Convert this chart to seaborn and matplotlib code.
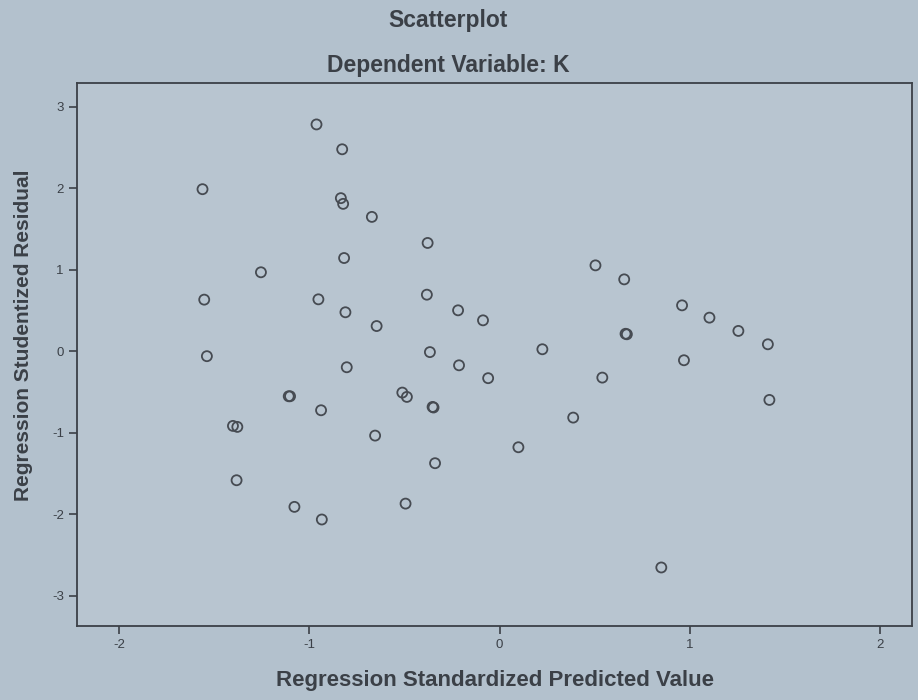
import matplotlib
matplotlib.use("Agg")
import matplotlib.pyplot as plt
import seaborn as sns
import pandas as pd

# standardized predicted values (x) and studentized residuals (y)
predicted = [
    -0.962, -0.827, -1.561, -0.834, -0.822, -0.671, -0.378, -0.817, -1.254, -1.552,
    -0.952, -0.382, -0.810, -0.218, -0.087, -0.646, -1.538, -0.366, -0.213, -0.060,
    -0.803, -1.108, -1.101, -0.511, -0.487, -0.352, -0.347, -0.938, -1.401, -1.378,
    -0.654, -0.339, -1.382, -1.078, -0.934, -0.494, 0.504, 0.655, 0.959, 1.103,
    1.255, 1.410, 0.669, 0.662, 0.225, 0.540, 0.969, 1.418, 0.387, 0.099, 0.850,
]
residual = [
    2.785, 2.480, 1.990, 1.880, 1.810, 1.650, 1.330, 1.145, 0.970, 0.634,
    0.638, 0.695, 0.479, 0.503, 0.380, 0.310, -0.060, -0.010, -0.172, -0.330,
    -0.196, -0.552, -0.552, -0.507, -0.560, -0.683, -0.690, -0.724, -0.916, -0.928,
    -1.035, -1.374, -1.583, -1.910, -2.065, -1.870, 1.055, 0.883, 0.564, 0.413,
    0.250, 0.086, 0.209, 0.215, 0.025, -0.323, -0.110, -0.597, -0.814, -1.178, -2.654,
]
x_ticks = [-2, -1, 0, 1, 2]
y_ticks = [-3, -2, -1, 0, 1, 2, 3]

df = pd.DataFrame({"pred": predicted, "resid": residual})

sns.set_style("ticks")
plt.rcParams["font.family"] = ["Liberation Sans", "DejaVu Sans"]
plt.rcParams["axes.unicode_minus"] = False

ink = "#3b4047"
fig = plt.figure(figsize=(9.18, 7.0), dpi=100, facecolor="#b3c1cd")
ax = fig.add_axes([0.084, 0.106, 0.910, 0.775])
ax.set_facecolor("#b8c5d0")

sns.scatterplot(data=df, x="pred", y="resid", ax=ax, marker="o", s=52,
                facecolor="none", edgecolor="#464b52", linewidth=1.3)

ax.set_xlim(-2.22, 2.17)
ax.set_ylim(-3.37, 3.29)
ax.set_xticks(x_ticks)
ax.set_yticks(y_ticks)
ax.tick_params(direction="out", length=6, width=1.2, colors=ink, labelsize=9.5)
for sp in ax.spines.values():
    sp.set_color(ink)
    sp.set_linewidth(1.3)

ax.set_xlabel("Regression Standardized Predicted Value", fontsize=16,
              fontweight="bold", color=ink, labelpad=14)
ax.set_ylabel("Regression Studentized Residual", fontsize=15,
              fontweight="bold", color=ink)
ax.yaxis.set_label_coords(-0.053, 0.535)

fig.text(0.488, 0.961, "Scatterplot", ha="center", va="baseline",
         fontsize=16.5, fontweight="bold", color=ink)
fig.text(0.488, 0.897, "Dependent Variable: K", ha="center", va="baseline",
         fontsize=16.5, fontweight="bold", color=ink)

fig.savefig("out.png", dpi=100, facecolor=fig.get_facecolor())
